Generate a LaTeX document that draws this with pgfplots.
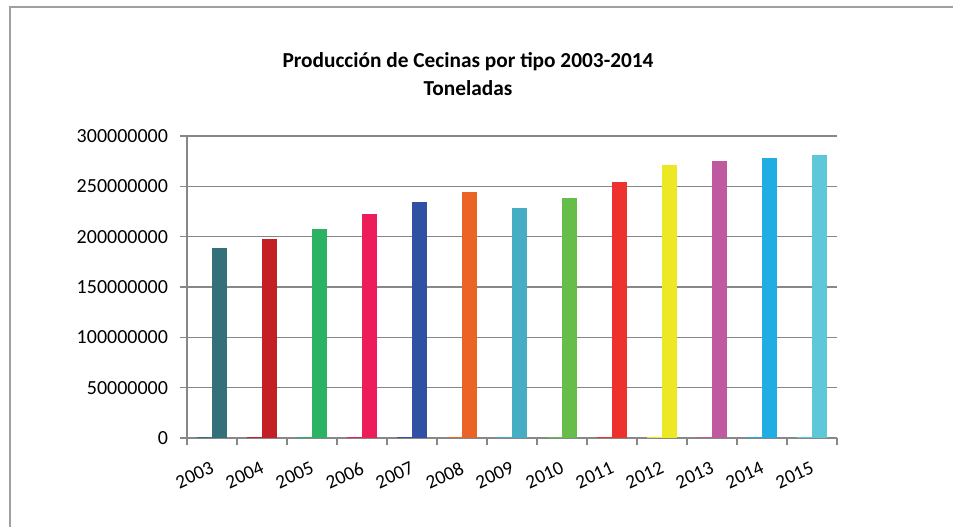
\documentclass[border=0pt]{standalone}
\usepackage{pgfplots}
\pgfplotsset{compat=1.18}
\usepackage{fontspec}
\setmainfont{Carlito}
\definecolor{gridgray}{HTML}{878787}
\definecolor{framegray}{HTML}{A0A0A0}
\definecolor{c03}{HTML}{34707A}
\definecolor{c04}{HTML}{C32026}
\definecolor{c05}{HTML}{2BB262}
\definecolor{c06}{HTML}{ED1C5A}
\definecolor{c07}{HTML}{3050A3}
\definecolor{c08}{HTML}{E96425}
\definecolor{c09}{HTML}{47ADC4}
\definecolor{c10}{HTML}{66BD4A}
\definecolor{c11}{HTML}{EC312E}
\definecolor{c12}{HTML}{EDE824}
\definecolor{c13}{HTML}{BF5AA1}
\definecolor{c14}{HTML}{1FADE3}
\definecolor{c15}{HTML}{5EC7D8}
\begin{document}
\begin{tikzpicture}
\useasboundingbox (0pt,0pt) rectangle (714.75pt,394.5pt);
\begin{scope}
\clip (0pt,0pt) rectangle (714.75pt,394.5pt);
\draw[framegray, line width=1.1pt] (7.5pt,-10pt) -- (7.5pt,389.25pt) -- (730pt,389.25pt);
\end{scope}
\node[font=\bfseries\fontsize{16}{21}\selectfont, align=center] at (351pt,339pt)
  {Producción de Cecinas por tipo 2003-2014\\Toneladas};
\begin{axis}[
  at={(140.25pt,66pt)}, anchor=south west,
  scale only axis, width=487.5pt, height=226.5pt,
  xmin=-0.5, xmax=12.5, ymin=0, ymax=300000000,
  ybar, bar width=11.25pt,
  axis x line*=bottom, axis y line*=left,
  axis line style={draw=gridgray, line width=1pt},
  ytick={0,50000000,...,300000000},
  scaled y ticks=false,
  /pgf/number format/fixed, /pgf/number format/precision=0,
  /pgf/number format/1000 sep={}, /pgf/number format/assume math mode=true,
  yticklabel style={font=\fontsize{15}{15}\selectfont, black, xshift=-5.5pt},
  ymajorgrids, major grid style={gridgray, line width=1.2pt},
  tick align=outside, major tick length=5.25pt, minor tick length=5.25pt,
  major y tick style={gridgray, line width=1pt},
  xtick={0,...,12},
  xticklabels={2003,2004,2005,2006,2007,2008,2009,2010,2011,2012,2013,2014,2015},
  minor xtick={-0.5,0.5,...,12.5},
  major x tick style={draw=none},
  minor x tick style={gridgray, line width=1pt},
  xticklabel style={font=\fontsize{14.5}{14.5}\selectfont, black, rotate=25, anchor=north east, inner sep=0pt, xshift=-6.5pt, yshift=-10pt},
  small/.style={draw=none, bar shift=-5.625pt},
  big/.style={draw=none, bar shift=5.625pt},
  clip=false,
]
\addplot[small, fill=c03] coordinates {(0,1200000)};
\addplot[big,   fill=c03] coordinates {(0,189000000)};
\addplot[small, fill=c04] coordinates {(1,1200000)};
\addplot[big,   fill=c04] coordinates {(1,198000000)};
\addplot[small, fill=c05] coordinates {(2,1200000)};
\addplot[big,   fill=c05] coordinates {(2,208000000)};
\addplot[small, fill=c06] coordinates {(3,1200000)};
\addplot[big,   fill=c06] coordinates {(3,223000000)};
\addplot[small, fill=c07] coordinates {(4,1200000)};
\addplot[big,   fill=c07] coordinates {(4,234000000)};
\addplot[small, fill=c08] coordinates {(5,1200000)};
\addplot[big,   fill=c08] coordinates {(5,244000000)};
\addplot[small, fill=c09] coordinates {(6,1200000)};
\addplot[big,   fill=c09] coordinates {(6,228000000)};
\addplot[small, fill=c10] coordinates {(7,1200000)};
\addplot[big,   fill=c10] coordinates {(7,238000000)};
\addplot[small, fill=c11] coordinates {(8,1200000)};
\addplot[big,   fill=c11] coordinates {(8,254000000)};
\addplot[small, fill=c12] coordinates {(9,1200000)};
\addplot[big,   fill=c12] coordinates {(9,271000000)};
\addplot[small, fill=c13] coordinates {(10,1200000)};
\addplot[big,   fill=c13] coordinates {(10,275000000)};
\addplot[small, fill=c14] coordinates {(11,1200000)};
\addplot[big,   fill=c14] coordinates {(11,278000000)};
\addplot[small, fill=c15] coordinates {(12,1200000)};
\addplot[big,   fill=c15] coordinates {(12,281000000)};
\end{axis}
\end{tikzpicture}
\end{document}
